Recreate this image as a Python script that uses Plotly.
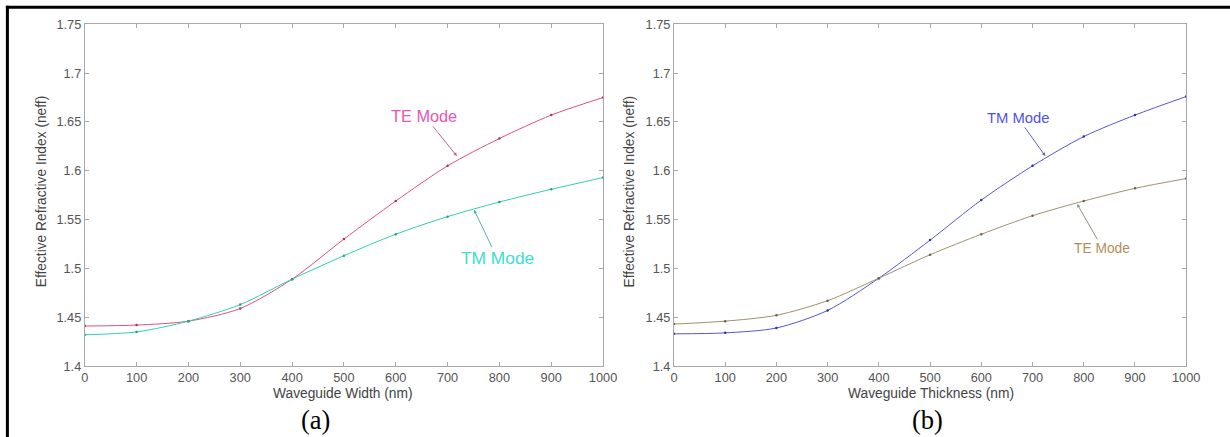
import plotly.graph_objects as go

# figure canvas (body margin removed in the page)
W, H = 1250, 455
# observed mapping of the photographed page: shown = S * page + O
SX, OX = 0.987, 2.1
SY, OY = 0.969, 6.2

# ---- data ----
x_nm = [0, 100, 200, 300, 400, 500, 600, 700, 800, 900, 1000]
# panel (a): waveguide width
te_width = [1.441, 1.442, 1.446, 1.459, 1.489, 1.530, 1.569, 1.605, 1.633, 1.657, 1.675]
tm_width = [1.432, 1.435, 1.446, 1.463, 1.489, 1.513, 1.535, 1.553, 1.568, 1.581, 1.593]
# panel (b): waveguide thickness
tm_thick = [1.433, 1.434, 1.439, 1.457, 1.490, 1.529, 1.570, 1.605, 1.635, 1.657, 1.676]
te_thick = [1.443, 1.446, 1.452, 1.467, 1.490, 1.514, 1.535, 1.554, 1.569, 1.582, 1.592]

y_ticks = [1.4, 1.45, 1.5, 1.55, 1.6, 1.65, 1.7, 1.75]
y_tick_text = ["1.4", "1.45", "1.5", "1.55", "1.6", "1.65", "1.7", "1.75"]
x_ticks = x_nm

def px(x):
    # target picture x -> paper fraction
    return ((x - OX) / SX) / W

def py(y):
    # target picture y -> paper fraction
    return 1 - ((y - OY) / SY) / H

K = 1.02  # font compensation

fig = go.Figure()

def add_series(xs, ys, line_col, mk_col, xa, ya):
    fig.add_trace(go.Scatter(
        x=xs, y=ys, mode="lines+markers", xaxis=xa, yaxis=ya,
        line=dict(color=line_col, width=1, shape="spline", smoothing=0.8),
        marker=dict(size=2.5, color=mk_col), showlegend=False, hoverinfo="skip"))

add_series(x_nm, te_width, "#e0507a", "#b03060", "x", "y")
add_series(x_nm, tm_width, "#30d0b0", "#20a090", "x", "y")
add_series(x_nm, tm_thick, "#5555d8", "#3030a0", "x2", "y2")
add_series(x_nm, te_thick, "#a09070", "#706050", "x2", "y2")

font_tick = dict(family="Liberation Sans, Arial, sans-serif", size=12.5 * K, color="#555555")
axis_common = dict(
    showline=True, linecolor="#a8a8a8", linewidth=1, mirror="ticks",
    ticks="inside", ticklen=4, tickcolor="#a8a8a8", showgrid=False,
    zeroline=False, tickfont=font_tick)

fig.update_layout(
    width=W, height=H, margin=dict(l=0, r=0, t=0, b=0),
    paper_bgcolor="white", plot_bgcolor="white",
    xaxis=dict(domain=[px(83), px(602)], range=[0, 1000], tickvals=x_ticks,
               anchor="y", **axis_common),
    yaxis=dict(domain=[py(365), py(22.5)], range=[1.4, 1.75], tickvals=y_ticks,
               ticktext=y_tick_text, anchor="x", **axis_common),
    xaxis2=dict(domain=[px(673), px(1186)], range=[0, 1000], tickvals=x_ticks,
                anchor="y2", **axis_common),
    yaxis2=dict(domain=[py(365), py(22.5)], range=[1.4, 1.75], tickvals=y_ticks,
                ticktext=y_tick_text, anchor="x2", **axis_common),
)

title_font = dict(family="Liberation Sans, Arial, sans-serif", size=13.5 * K, color="#444444")
ann = []
ann.append(dict(text="Waveguide Width (nm)", x=px(342), y=py(392), xref="paper", yref="paper",
                showarrow=False, font=title_font, xanchor="center", yanchor="middle"))
ann.append(dict(text="Waveguide Thickness (nm)", x=px(930), y=py(392), xref="paper", yref="paper",
                showarrow=False, font=title_font, xanchor="center", yanchor="middle"))
ann.append(dict(text="Effective Refractive Index (neff)", x=px(40), y=py(190), xref="paper",
                yref="paper", showarrow=False, font=title_font, textangle=-90,
                xanchor="center", yanchor="middle"))
ann.append(dict(text="Effective Refractive Index (neff)", x=px(628), y=py(190), xref="paper",
                yref="paper", showarrow=False, font=title_font, textangle=-90,
                xanchor="center", yanchor="middle"))
cap_font = dict(family="Liberation Serif, Times New Roman, serif", size=26 * K, color="black")
ann.append(dict(text="(a)", x=px(314), y=py(419), xref="paper", yref="paper",
                showarrow=False, font=cap_font, xanchor="center", yanchor="middle"))
ann.append(dict(text="(b)", x=px(927), y=py(419), xref="paper", yref="paper",
                showarrow=False, font=cap_font, xanchor="center", yanchor="middle"))

def mode_label(text, x, y, ax, ay, col, size, xr, yr, acol):
    ann.append(dict(text=text, x=x, y=y, xref=xr, yref=yr, ax=ax / SX, ay=ay / SY,
                    showarrow=True, arrowhead=2, arrowsize=0.7, arrowwidth=1,
                    arrowcolor=acol,
                    font=dict(family="Liberation Sans, Arial, sans-serif", size=size * K,
                              color=col)))

mode_label("TE Mode", 718, 1.615, -32, -39, "#e855b8", 16, "x", "y", "#c06090")
mode_label("TM Mode", 751, 1.560, 23, 47, "#40dcd0", 17, "x", "y", "#50b0a8")
mode_label("TM Mode", 725, 1.615, -27, -37, "#5050f0", 14.5, "x2", "y2", "#6060c0")
mode_label("TE Mode", 787, 1.566, 25, 43, "#b09058", 13.5, "x2", "y2", "#909080")

fig.update_layout(annotations=ann)

# outer frame (top and left lines)
top_y = max(py(5.5), 1 - 1.6 / H)
left_x = px(5.5)
fig.add_shape(type="line", xref="paper", yref="paper", x0=left_x - 1.5 / W, x1=1,
              y0=top_y, y1=top_y, line=dict(color="black", width=3))
fig.add_shape(type="line", xref="paper", yref="paper", x0=left_x, x1=left_x,
              y0=top_y + 1.5 / H, y1=0, line=dict(color="black", width=3))

fig.write_html("out.html", config={"displayModeBar": False},
               post_script="document.body.style.margin='0';document.body.style.overflow='hidden';")
